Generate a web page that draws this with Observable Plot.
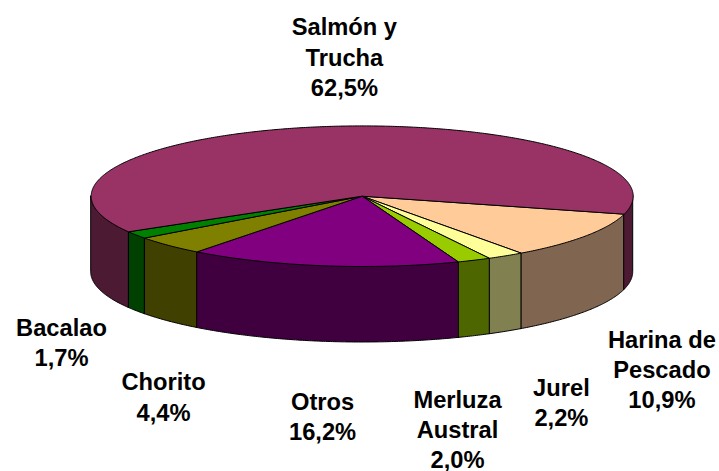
<!DOCTYPE html>
<html><head><meta charset="utf-8">
<style>html,body{margin:0;padding:0;background:#fff}svg{display:block}</style>
<script src="https://cdn.jsdelivr.net/npm/d3@7"></script>
<script src="https://cdn.jsdelivr.net/npm/@observablehq/plot@0.6"></script>
</head><body><script>
const categories = ["Harina de Pescado","Jurel","Merluza Austral","Otros","Chorito","Bacalao","Salmón y Trucha"];
const shares = [10.9,2.2,2.0,16.2,4.4,1.7,62.5];
const shareLabels = ["10,9%","2,2%","2,0%","16,2%","4,4%","1,7%","62,5%"];
const topColors = ["#FFCC99","#FFFF99","#99CC00","#800080","#808000","#008000","#993366"];
const wallColors = ["#806650","#808050","#4D6600","#400040","#404000","#004000","#4D1A33"];
const labelLines = [["Harina de","Pescado"],["Jurel"],["Merluza","Austral"],["Otros"],["Chorito"],["Bacalao"],["Salmón y","Trucha"]];
// label offset (px) from the slice's rim midpoint
const labelOffsets = [[76.2,132.3],[55.8,145.5],[-16.6,168],[0,149.5],[-5.3,150.5],[-74.7,106.3],[19,-70.5]];

const startDeg = 14.8, depth = 76 / 70.3, total = d3.sum(shares);
let acc = startDeg;
const slices = categories.map((name, i) => {
  const a0 = acc, a1 = acc + shares[i] / total * 360; acc = a1;
  return {name, a0, a1, mid: (a0 + a1) / 2, top: topColors[i], wall: wallColors[i],
    text: [...labelLines[i], shareLabels[i]].join("\n"), offset: labelOffsets[i]};
});
const rad = d => d * Math.PI / 180;
const arc = (a0, a1) => d3.range(0, 1 + 1e-9, 1 / Math.max(2, Math.ceil((a1 - a0) * 2))).map(f => a0 + (a1 - a0) * f);

const topPoints = slices.flatMap(s => [
  {name: s.name, x: 0, y: 0, color: s.top},
  ...arc(s.a0, s.a1).map(a => ({name: s.name, x: Math.cos(rad(a)), y: Math.sin(rad(a)), color: s.top})),
  {name: s.name, x: 0, y: 0, color: s.top}
]);
// visible wall runs: front half of the ellipse, 0..180 and 360..540 degrees
const wallPoints = slices.flatMap(s => [[0,180],[360,540]].flatMap(([lo, hi], k) => {
  const a0 = Math.max(s.a0, lo), a1 = Math.min(s.a1, hi);
  if (a1 <= a0) return [];
  return arc(a0, a1).map(a => ({key: s.name + k, x: Math.cos(rad(a)), y1: Math.sin(rad(a)), y2: Math.sin(rad(a)) + depth, color: s.wall}));
}));

const font = {fontFamily: "'Liberation Sans', Arial, sans-serif", fontWeight: "bold", fontSize: 23.7, fill: "#000", lineHeight: 1.285, textAnchor: "middle"};
const labelMarks = slices.map(s => Plot.text([s], {
  x: d => Math.cos(rad(d.mid)), y: d => Math.sin(rad(d.mid)), text: "text",
  dx: s.offset[0], dy: s.offset[1], ...font
}));

const chart = Plot.plot({
  width: 719, height: 471, margin: 0,
  style: {background: "#fff"},
  x: {axis: null, domain: [-1, 1], range: [361.7 - 271, 361.7 + 271]},
  y: {axis: null, domain: [-1, 1], range: [195.7 - 70.3, 195.7 + 70.3]},
  marks: [
    Plot.areaY(wallPoints, {x: "x", y1: "y1", y2: "y2", z: "key", fill: "color", stroke: "#000", strokeWidth: 1, curve: "linear"}),
    Plot.line(topPoints, {x: "x", y: "y", z: "name", fill: "color", stroke: "#000", strokeWidth: 1, curve: "linear", strokeLinejoin: "round"}),
    ...labelMarks
  ]
});
document.body.appendChild(chart);
</script></body></html>
